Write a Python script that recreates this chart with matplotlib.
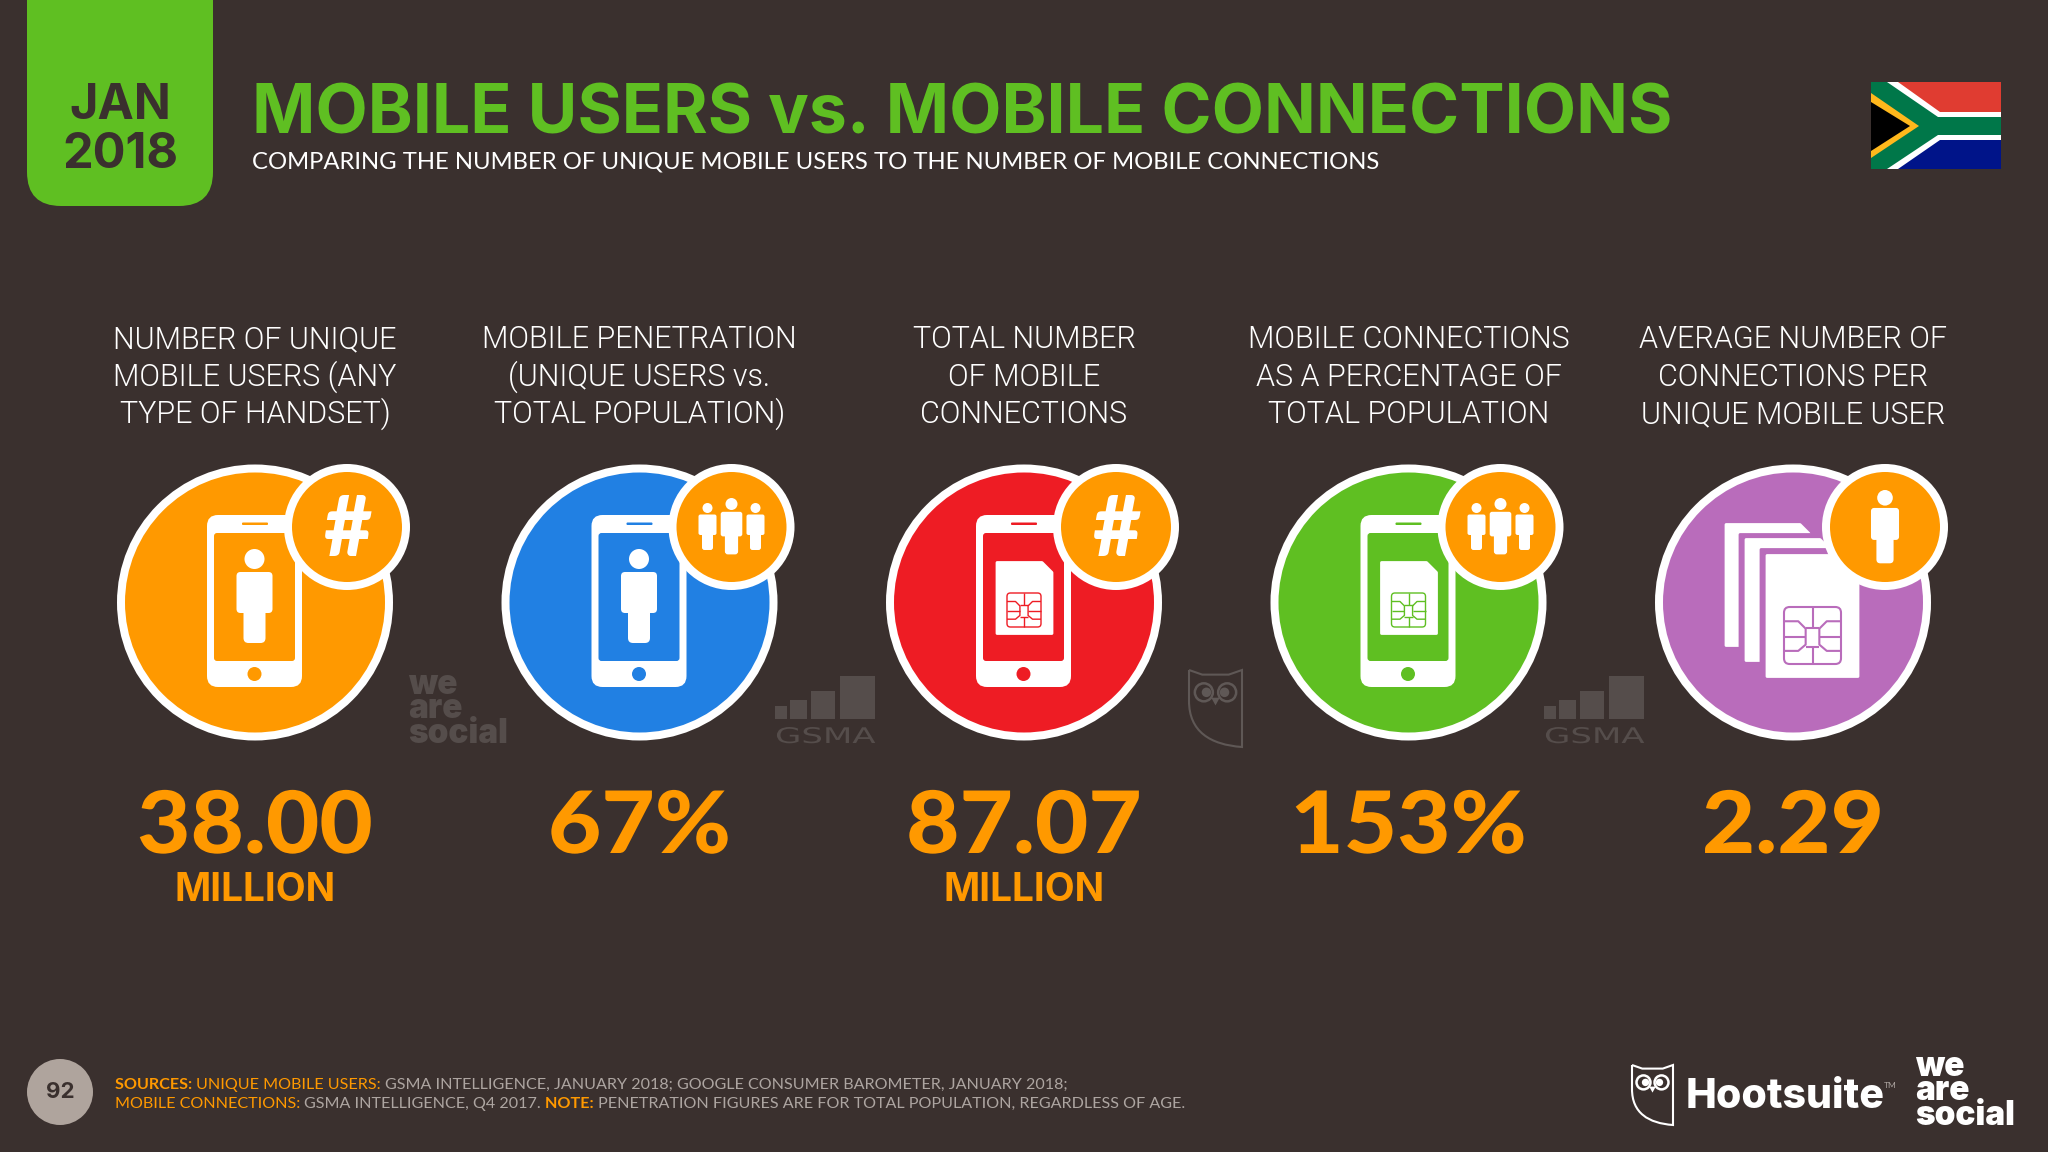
import matplotlib
matplotlib.use("Agg")
import matplotlib.pyplot as plt
from matplotlib.patches import Circle, FancyBboxPatch, Polygon, PathPatch
from matplotlib.patheffects import AbstractPathEffect
from matplotlib.path import Path
from matplotlib.transforms import Affine2D

# Data
title = "MOBILE USERS vs. MOBILE CONNECTIONS"
subtitle = "COMPARING THE NUMBER OF UNIQUE MOBILE USERS TO THE NUMBER OF MOBILE CONNECTIONS"
col_labels = [
    ["NUMBER OF UNIQUE", "MOBILE USERS (ANY", "TYPE OF HANDSET)"],
    ["MOBILE PENETRATION", "(UNIQUE USERS vs.", "TOTAL POPULATION)"],
    ["TOTAL NUMBER", "OF MOBILE", "CONNECTIONS"],
    ["MOBILE CONNECTIONS", "AS A PERCENTAGE OF", "TOTAL POPULATION"],
    ["AVERAGE NUMBER OF", "CONNECTIONS PER", "UNIQUE MOBILE USER"],
]
values = ["38.00", "67%", "87.07", "153%", "2.29"]
units = ["MILLION", "", "MILLION", "", ""]
circle_colors = ["#FF9900", "#2180E3", "#EE1C24", "#5FBF22", "#B96CBB"]
main_icons = ["person", "person", "sim", "sim", "sims"]
badges = ["hash", "group", "hash", "group", "single"]
page_number = "92"

BG = "#3A302E"
GREEN = "#5FBF22"
ORANGE = "#FF9900"
GREY = "#ADA5A1"
MARK = "#554D4B"
COL_X = [255, 639.5, 1024, 1408.5, 1793]
CY = 602.5

HEAD = "Inter"
THIN = "Lato"

fig = plt.figure(figsize=(20.48, 11.52), dpi=100, facecolor=BG)
ax = fig.add_axes([0, 0, 1, 1])
ax.set_xlim(0, 2048)
ax.set_ylim(1152, 0)
ax.axis("off")


class Wide(AbstractPathEffect):
    # stretches a text sideways from its left edge
    def __init__(self, sx):
        super().__init__()
        self.sx = sx

    def draw_path(self, renderer, gc, tpath, affine, rgbFace=None):
        renderer.draw_path(gc, tpath, Affine2D().scale(self.sx, 1) + affine, rgbFace)


def wide_center(cx, y, txt, sx, **kw):
    t = ax.text(cx, y, txt, ha="center", va="baseline", path_effects=[Wide(sx)], **kw)
    w = t.get_window_extent(fig.canvas.get_renderer()).width
    t.set_x(cx - (sx - 1) * w / 2)


def rbox(x0, y0, x1, y1, r, color, z=3):
    ax.add_patch(FancyBboxPatch((x0, y0), x1 - x0, y1 - y0,
                                boxstyle=f"round,pad=0,rounding_size={r}",
                                fc=color, ec="none", zorder=z))


def person(cx, top, s, color="white", z=3):
    ax.add_patch(Circle((cx, top + 10 * s), 10 * s, fc=color, ec="none", zorder=z))
    rbox(cx - 18 * s, top + 23 * s, cx + 18 * s, top + 64 * s, 4 * s, color, z)
    rbox(cx - 11 * s, top + 50 * s, cx + 11 * s, top + 94 * s, 5 * s, color, z)


def sim(x0, y0, x1, y1, cut, color, z=3):
    ax.add_patch(Polygon([(x0, y0), (x1 - cut, y0), (x1, y0 + cut), (x1, y1), (x0, y1)],
                         closed=True, fc=color, ec=color, lw=2, joinstyle="round", zorder=z))


def chip(cx, cy, size, color, lw, z=4):
    ax.add_patch(FancyBboxPatch((cx - size / 2, cy - size / 2), size, size,
                                boxstyle=f"round,pad=0,rounding_size={size * 0.1}",
                                fc="none", ec=color, lw=lw, zorder=z))
    segs = [
        [(-.5, -.25), (-.25, -.25), (-.12, -.12), (-.12, .16), (-.25, .27), (-.5, .27)],
        [(.5, -.25), (.25, -.25), (.12, -.12), (.12, .16), (.25, .27), (.5, .27)],
        [(-.5, .02), (-.12, .02)], [(.5, .02), (.12, .02)],
        [(0, -.5), (0, -.14)], [(-.12, -.14), (.12, -.14)],
        [(0, .5), (0, .2)], [(-.12, .2), (.12, .2)],
    ]
    for seg in segs:
        ax.plot([cx + u * size for u, v in seg], [cy + v * size for u, v in seg],
                color=color, lw=lw, zorder=z, solid_capstyle="butt")


def phone(cx, color):
    rbox(cx - 48, CY - 87.5, cx + 47, CY + 84.5, 11, "white")
    rbox(cx - 41, CY - 69.5, cx + 40, CY + 58.5, 3, color, 4)
    rbox(cx - 13, CY - 80, cx + 13, CY - 77.5, 1, color, 4)
    ax.add_patch(Circle((cx - 0.5, CY + 71.5), 7, fc=color, ec="none", zorder=4))


def owl(x0, y0, w, h, color, lw):
    verts = [(0, 0), (.25, .06), (.75, .06), (1, 0), (1, 1), (.4, .97), (0, .8), (0, .4), (0, 0)]
    codes = [Path.MOVETO, Path.LINETO, Path.LINETO, Path.LINETO, Path.LINETO,
             Path.CURVE4, Path.CURVE4, Path.CURVE4, Path.LINETO]
    pts = [(x0 + u * w, y0 + v * h) for u, v in verts]
    ax.add_patch(PathPatch(Path(pts, codes), fc="none", ec=color, lw=lw, zorder=2))
    ey = y0 + .29 * h
    for u, du in [(.28, .05), (.72, -.05)]:
        ax.add_patch(Circle((x0 + u * w, ey), .17 * w, fc="none", ec=color, lw=lw * 1.2, zorder=2))
        ax.add_patch(Circle((x0 + (u + du) * w, ey), .09 * w, fc=color, ec="none", zorder=2))
    ax.add_patch(Polygon([(x0 + .42 * w, ey + .07 * h), (x0 + .58 * w, ey + .07 * h),
                          (x0 + .5 * w, ey + .17 * h)], closed=True, fc=color, ec="none", zorder=2))


def wordmark(x, y, color, size):
    # y is the baseline of the last line
    ax.text(x, y, "we\nare\nsocial", color=color, fontsize=size, family=HEAD, fontweight="black",
            ha="left", va="baseline", linespacing=0.71, zorder=2)


def gsma(x0):
    bars = [(0, 12, 13), (15, 32, 19), (36, 60, 28), (65, 100, 43)]
    for a, b, hgt in bars:
        ax.fill([x0 + a, x0 + b, x0 + b, x0 + a], [719, 719, 719 - hgt, 719 - hgt], color=MARK, lw=0, zorder=2)
    ax.text(x0, 743, "GSMA", color=MARK, fontsize=15.5, family="DejaVu Sans", ha="left", va="baseline",
            zorder=2, path_effects=[Wide(1.58)])


def runs(x, y, parts, size):
    # one footer line built of coloured pieces
    r = fig.canvas.get_renderer()
    for txt, color, weight in parts:
        t = ax.text(x, y, txt, color=color, fontsize=size, family=THIN, fontweight=weight,
                    ha="left", va="baseline", zorder=3)
        x = ax.transData.inverted().transform(t.get_window_extent(r).get_points())[1][0]


# Header
rbox(27, -60, 213, 206, 34, GREEN, 1)
ax.text(120, 119, "JAN", color=BG, fontsize=35, family=HEAD, fontweight="bold", ha="center", va="baseline")
ax.text(120, 168, "2018", color=BG, fontsize=35, family=HEAD, fontweight="bold", ha="center", va="baseline")
ax.text(252, 133, title, color=GREEN, fontsize=48.9, family=HEAD, fontweight="bold", ha="left", va="baseline")
ax.text(252, 168, subtitle, color="white", fontsize=17.18, family=THIN, ha="left", va="baseline")

# Flag
fx, fy = 1871, 82
ax.add_patch(Polygon([(fx, fy), (fx + 130, fy), (fx + 130, fy + 43), (fx, fy + 43)], fc="#E03C31", ec="none"))
ax.add_patch(Polygon([(fx, fy + 43), (fx + 130, fy + 43), (fx + 130, fy + 87), (fx, fy + 87)], fc="#001489", ec="none"))
ax.add_patch(Polygon([(fx + 16, fy), (fx + 27, fy), (fx + 69, fy + 30), (fx + 130, fy + 30), (fx + 130, fy + 58),
                      (fx + 69, fy + 58), (fx + 27, fy + 87), (fx + 16, fy + 87)], fc="white", ec="none"))
ax.add_patch(Polygon([(fx, fy), (fx + 16, fy), (fx + 67, fy + 35), (fx + 130, fy + 35), (fx + 130, fy + 53),
                      (fx + 67, fy + 53), (fx + 16, fy + 87), (fx, fy + 87)], fc="#007749", ec="none"))
ax.add_patch(Polygon([(fx, fy + 11), (fx + 48, fy + 44), (fx, fy + 76)], fc="#FFB81C", ec="none"))
ax.add_patch(Polygon([(fx, fy + 20), (fx + 39, fy + 44), (fx, fy + 69)], fc="black", ec="none"))

# Columns
line_y = [348, 386, 423]
for i, cx in enumerate(COL_X):
    color = circle_colors[i]
    for ly, line in zip(line_y, col_labels[i]):
        ax.text(cx, ly, line, color="white", fontsize=22, family="Roboto", fontweight=300, ha="center", va="baseline")

    ax.add_patch(Circle((cx, CY), 138, fc="white", ec="none", zorder=2))
    ax.add_patch(Circle((cx, CY), 130, fc=color, ec="none", zorder=2))

    if main_icons[i] == "person":
        phone(cx, color)
        person(cx - 0.5, CY - 53.5, 1, "white", 5)
    elif main_icons[i] == "sim":
        phone(cx, color)
        sim(cx - 27, CY - 40, cx + 28, CY + 31, 10, "white", 5)
        chip(cx, CY + 7.5, 34, color, 1.0, 6)
    else:
        sim(cx - 67, CY - 78, cx + 16, CY + 43, 9, "white", 3)
        sim(cx - 53, CY - 68, cx + 36, CY + 58, 9, color, 3)
        sim(cx - 47, CY - 63, cx + 36, CY + 58, 9, "white", 3)
        sim(cx - 32, CY - 53, cx + 65, CY + 74, 9, color, 3)
        sim(cx - 26, CY - 47, cx + 65, CY + 74, 9, "white", 3)
        chip(cx + 19.5, CY + 33, 57, color, 1.5, 6)

    bx, by = cx + 92, 527
    ax.add_patch(Circle((bx, by), 63, fc="white", ec="none", zorder=7))
    ax.add_patch(Circle((bx, by), 55, fc=ORANGE, ec="none", zorder=7))
    if badges[i] == "hash":
        ax.text(bx, by + 29, "#", color="white", fontsize=60, family=THIN, fontweight="black",
                ha="center", va="baseline", zorder=8)
    elif badges[i] == "group":
        person(bx - 24, by - 24, 0.5, "white", 8)
        person(bx + 24, by - 24, 0.5, "white", 8)
        person(bx, by - 29, 0.6, "white", 8)
    else:
        person(bx, by - 37, 0.78, "white", 8)

    wide_center(cx, 853, values[i], 1.07, color=ORANGE, fontsize=62, family=THIN, fontweight="black")
    if units[i]:
        ax.text(cx, 901, units[i], color=ORANGE, fontsize=28, family=HEAD, fontweight="bold", ha="center", va="baseline")

# Faded source marks between the circles
wordmark(408, 743, MARK, 24)
gsma(775)
owl(1189, 670, 53, 77, "#5F5856", 1.5)
gsma(1544)

# Footer
ax.add_patch(Circle((60, 1092), 33, fc="#AFA49D", ec="none"))
ax.text(60, 1098, page_number, color=BG, fontsize=16, family=HEAD, fontweight="bold", ha="center", va="baseline")
runs(115, 1089, [("SOURCES: ", ORANGE, "bold"), ("UNIQUE MOBILE USERS: ", ORANGE, "normal"),
                 ("GSMA INTELLIGENCE, JANUARY 2018; GOOGLE CONSUMER BAROMETER, JANUARY 2018;", GREY, "normal")], 11.65)
runs(115, 1108, [("MOBILE CONNECTIONS: ", ORANGE, "normal"), ("GSMA INTELLIGENCE, Q4 2017. ", GREY, "normal"),
                 ("NOTE: ", ORANGE, "bold"), ("PENETRATION FIGURES ARE FOR TOTAL POPULATION, REGARDLESS OF AGE.", GREY, "normal")], 11.65)

owl(1632, 1065, 41, 60, "white", 1.5)
ax.text(1686, 1108, "Hootsuite", color="white", fontsize=29.6, family=HEAD, fontweight=800, ha="left", va="baseline")
ax.text(1884, 1088, "TM", color=GREY, fontsize=6, family=THIN, ha="left", va="baseline")
wordmark(1915, 1125, "white", 24)

fig.savefig("out.png", dpi=100, facecolor=BG)
